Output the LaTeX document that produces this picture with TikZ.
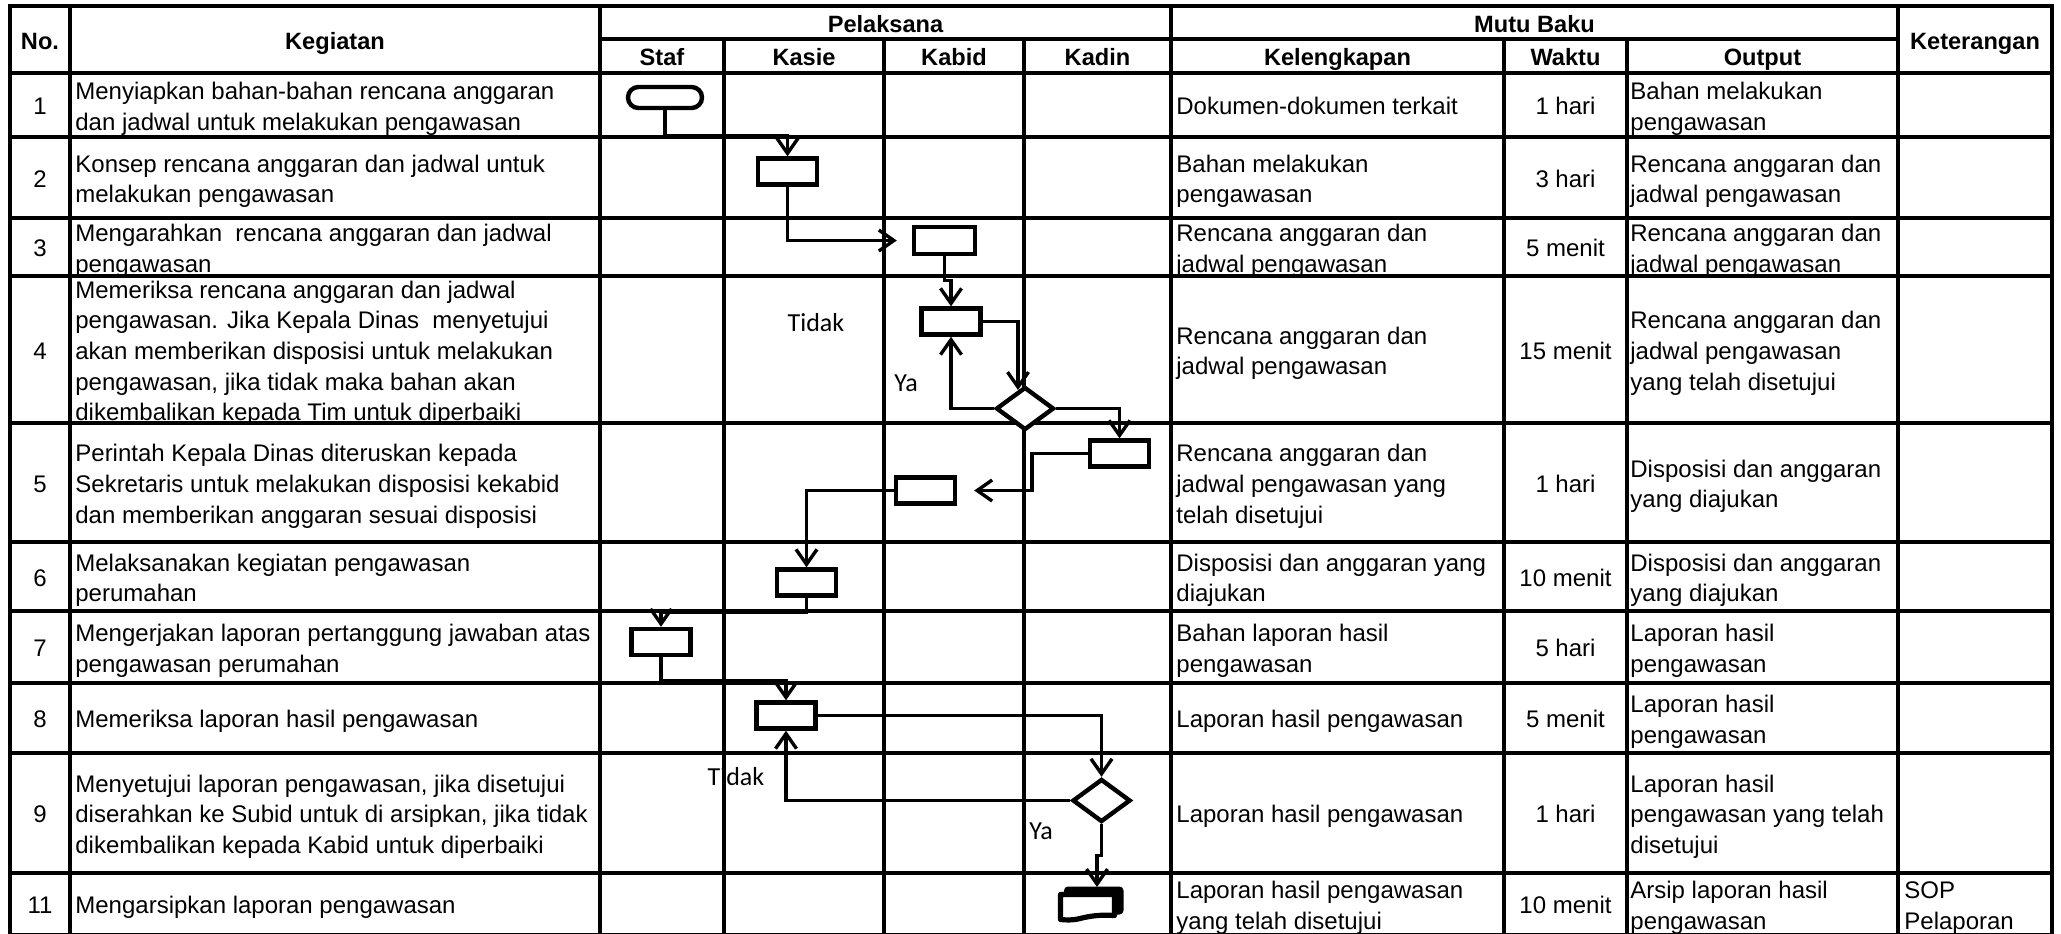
\documentclass[tikz,border=0pt]{standalone}
\usepackage{fontspec}
\setmainfont{Liberation Sans}
\newfontfamily\labfont{Carlito}
\usetikzlibrary{arrows.meta,shapes.geometric}
\newcommand\stt{\rule{0pt}{12pt}}
\tikzset{
  tline/.style={line width=1.6pt, line cap=rect},
  cellfont/.style={font=\fontsize{12}{15.35}\selectfont},
  sz/.style={execute at begin node={\rule{0pt}{12pt}}, execute at end node={\rule[-2.75pt]{0pt}{2.75pt}}},
  L/.style={cellfont, align=left, anchor=north west, inner sep=0pt, yshift={7.25pt+(#1-1)*7.675pt}},
  C/.style={cellfont, align=center, anchor=north, inner sep=0pt, yshift=7.25pt},
  hd/.style={font=\fontsize{11.8}{14}\selectfont\bfseries, sz, inner sep=0pt},
  lab/.style={font=\labfont\fontsize{13}{15}\selectfont, inner sep=0pt},
  proc/.style={draw, fill=white, line width=2.2pt, minimum width=29.5pt, minimum height=13pt, inner sep=0pt},
  term/.style={draw, fill=white, line width=2.2pt, rounded corners=5.2pt, minimum width=37pt, minimum height=10.5pt, inner sep=0pt},
  dec/.style={diamond, draw, fill=white, line width=2.2pt, minimum width=29pt, minimum height=21.5pt, inner sep=0pt},
  conn/.style={line width=1.7pt, -{Straight Barb[length=7.5pt, width=10.5pt]}},
}
\begin{document}
\begin{tikzpicture}[x=0.5pt, y=-0.5pt]
\useasboundingbox (0,0) rectangle (2061,933);
\clip (0,0) rectangle (2061,933);

% ---------- header texts ----------
\node[hd] (hno)  at (40,40) {No.};
\node[hd] (hkeg) at (335,40) {Kegiatan};
\node[hd] (hpel) at (885.5,23) {Pelaksana};
\node[hd] (hmut) at (1534.5,23) {Mutu Baku};
\node[hd] (hket) at (1975,40) {Keterangan};
\node[hd] (hsta) at (662,56) {Staf};
\node[hd] (hkas) at (804,56) {Kasie};
\node[hd] (hkab) at (954,56) {Kabid};
\node[hd] (hkad) at (1097.5,56) {Kadin};
\node[hd] (hkel) at (1337.5,56) {Kelengkapan};
\node[hd] (hwak) at (1565.5,56) {Waktu};
\node[hd] (hout) at (1762.5,56) {Output};

% ---------- row texts ----------
% row 1
\node[C] (n1) at (40,105) {\stt 1};
\node[L=2] (k1) at (75,105) {\stt Menyiapkan bahan-bahan rencana anggaran\\dan jadwal untuk melakukan pengawasan};
\node[L=1] (l1) at (1176,105) {\stt Dokumen-dokumen terkait};
\node[C] (w1) at (1565.5,105) {\stt 1 hari};
\node[L=2] (o1) at (1630,105) {\stt Bahan melakukan\\pengawasan};
% row 2
\node[C] (n2) at (40,177.5) {\stt 2};
\node[L=2] (k2) at (75,177.5) {\stt Konsep rencana anggaran dan jadwal untuk\\melakukan pengawasan};
\node[L=2] (l2) at (1176,177.5) {\stt Bahan melakukan\\pengawasan};
\node[C] (w2) at (1565.5,177.5) {\stt 3 hari};
\node[L=2] (o2) at (1630,177.5) {\stt Rencana anggaran dan\\jadwal pengawasan};
% row 3
\node[C] (n3) at (40,247) {\stt 3};
\node[L=2] (k3) at (75,247) {\stt Mengarahkan\ \ rencana anggaran dan jadwal\\pengawasan};
\node[L=2] (l3) at (1176,247) {\stt Rencana anggaran dan\\jadwal pengawasan};
\node[C] (w3) at (1565.5,247) {\stt 5 menit};
\node[L=2] (o3) at (1630,247) {\stt Rencana anggaran dan\\jadwal pengawasan};
% row 4
\node[C] (n4) at (40,349.5) {\stt 4};
\node[L=5] (k4) at (75,349.5) {\stt Memeriksa rencana anggaran dan jadwal\\pengawasan. Jika Kepala Dinas\ \ menyetujui\\akan memberikan disposisi untuk melakukan\\pengawasan, jika tidak maka bahan akan\\dikembalikan kepada Tim untuk diperbaiki};
\node[L=2] (l4) at (1176,349.5) {\stt Rencana anggaran dan\\jadwal pengawasan};
\node[C] (w4) at (1565.5,349.5) {\stt 15 menit};
\node[L=3] (o4) at (1630,349.5) {\stt Rencana anggaran dan\\jadwal pengawasan\\yang telah disetujui};
% row 5
\node[C] (n5) at (40,482.5) {\stt 5};
\node[L=3] (k5) at (75,482.5) {\stt Perintah Kepala Dinas diteruskan kepada\\Sekretaris untuk melakukan disposisi kekabid\\dan memberikan anggaran sesuai disposisi};
\node[L=3] (l5) at (1176,482.5) {\stt Rencana anggaran dan\\jadwal pengawasan yang\\telah disetujui};
\node[C] (w5) at (1565.5,482.5) {\stt 1 hari};
\node[L=2] (o5) at (1630,482.5) {\stt Disposisi dan anggaran\\yang diajukan};
% row 6
\node[C] (n6) at (40,576.5) {\stt 6};
\node[L=2] (k6) at (75,576.5) {\stt Melaksanakan kegiatan pengawasan\\perumahan};
\node[L=2] (l6) at (1176,576.5) {\stt Disposisi dan anggaran yang\\diajukan};
\node[C] (w6) at (1565.5,576.5) {\stt 10 menit};
\node[L=2] (o6) at (1630,576.5) {\stt Disposisi dan anggaran\\yang diajukan};
% row 7
\node[C] (n7) at (40,647) {\stt 7};
\node[L=2] (k7) at (75,647) {\stt Mengerjakan laporan pertanggung jawaban atas\\pengawasan perumahan};
\node[L=2] (l7) at (1176,647) {\stt Bahan laporan hasil\\pengawasan};
\node[C] (w7) at (1565.5,647) {\stt 5 hari};
\node[L=2] (o7) at (1630,647) {\stt Laporan hasil\\pengawasan};
% row 8
\node[C] (n8) at (40,718) {\stt 8};
\node[L=1] (k8) at (75,718) {\stt Memeriksa laporan hasil pengawasan};
\node[L=1] (l8) at (1176,718) {\stt Laporan hasil pengawasan};
\node[C] (w8) at (1565.5,718) {\stt 5 menit};
\node[L=2] (o8) at (1630,718) {\stt Laporan hasil\\pengawasan};
% row 9
\node[C] (n9) at (40,813) {\stt 9};
\node[L=3] (k9) at (75,813) {\stt Menyetujui laporan pengawasan, jika disetujui\\diserahkan ke Subid untuk di arsipkan, jika tidak\\dikembalikan kepada Kabid untuk diperbaiki};
\node[L=1] (l9) at (1176,813) {\stt Laporan hasil pengawasan};
\node[C] (w9) at (1565.5,813) {\stt 1 hari};
\node[L=3] (o9) at (1630,813) {\stt Laporan hasil\\pengawasan yang telah\\disetujui};
% row 11
\node[C] (n11) at (40,904) {\stt 11};
\node[L=1] (k11) at (75,904) {\stt Mengarsipkan laporan pengawasan};
\node[L=2] (l11) at (1176,904) {\stt Laporan hasil pengawasan\\yang telah disetujui};
\node[C] (w11) at (1565.5,904) {\stt 10 menit};
\node[L=2] (o11) at (1630,904) {\stt Arsip laporan hasil\\pengawasan};
\node[L=2] (e11) at (1904,904) {\stt SOP\\Pelaporan};

% ---------- decision labels ----------
\node[lab] (t1) at (816,323) {Tidak};
\node[lab] (y1) at (906,383) {Ya};
\node[lab] (t2) at (736,777) {Tidak};
\node[lab] (y2) at (1041,831) {Ya};

% ---------- table grid ----------
\foreach \yy in {6,73,137,218,276,423,542,611,683,753,873,935}
  \draw[tline] (10,\yy) -- (2052,\yy);
\draw[tline] (600,39) -- (1898,39);
\foreach \xx in {10,70,600,1171,1898,2052}
  \draw[tline] (\xx,6) -- (\xx,940);
\foreach \xx in {724,884,1024,1504,1627}
  \draw[tline] (\xx,39) -- (\xx,940);

% ---------- flowchart shapes ----------
\node[term] (st) at (665,97.5) {};
\node[proc] (b2) at (787.5,171.5) {};
\node[proc, minimum width=30.5pt, minimum height=13.5pt] (b3) at (944.5,240.5) {};
\node[proc] (b4) at (951,321.5) {};
\node[dec]  (d1) at (1025,408.5) {};
\node[proc] (b5) at (1119.5,453.5) {};
\node[proc] (b6) at (925.5,490.5) {};
\node[proc] (b7) at (806.5,582.5) {};
\node[proc] (b8) at (661,642) {};
\node[proc] (b9) at (786,715.5) {};
\node[dec]  (d2) at (1101.5,800.5) {};

% multi-document (archive) symbol
\fill[rounded corners=2pt] (1064,886.5) rectangle (1123.5,914.5);
\draw[line width=2.6pt, fill=white, line join=round] (1060.5,894.5) -- (1114.5,894.5) -- (1114.5,915.5)
  .. controls (1100,914.5) and (1090,916) .. (1080,918.5)
  .. controls (1072,920.5) and (1066,920) .. (1060.5,919.5) -- cycle;
\coordinate (d1in) at (1018,390);
\coordinate (docin) at (1097,887);

% ---------- connectors ----------
\draw[conn] (st.south) -- ++(0,25) -| (b2.north);
\draw[conn, shorten >=7.5pt] (b2.south) |- (b3.west);
\draw[conn] (b3.south) -- ++(0,24) -| (b4.north);
\draw[conn] (b4.east) -| (d1in);
\draw[conn] (d1.west) -| (b4.south);
\draw[conn] (d1.east) -| (b5.north);
\draw[conn, shorten >=8.5pt] (b5.west) -- ++(-56,0) |- (b6.east);
\draw[conn] (b6.west) -| (b7.north);
\draw[conn] (b7.south) -- ++(0,15) -| (b8.north);
\draw[conn] (b8.south) -- ++(0,23) -| (b9.north);
\draw[conn] (b9.east) -| (d2.north);
\draw[conn] (d2.west) -| (b9.south);
\draw[conn] (d2.south) -- ++(0,31) -| (docin);
\end{tikzpicture}
\end{document}
